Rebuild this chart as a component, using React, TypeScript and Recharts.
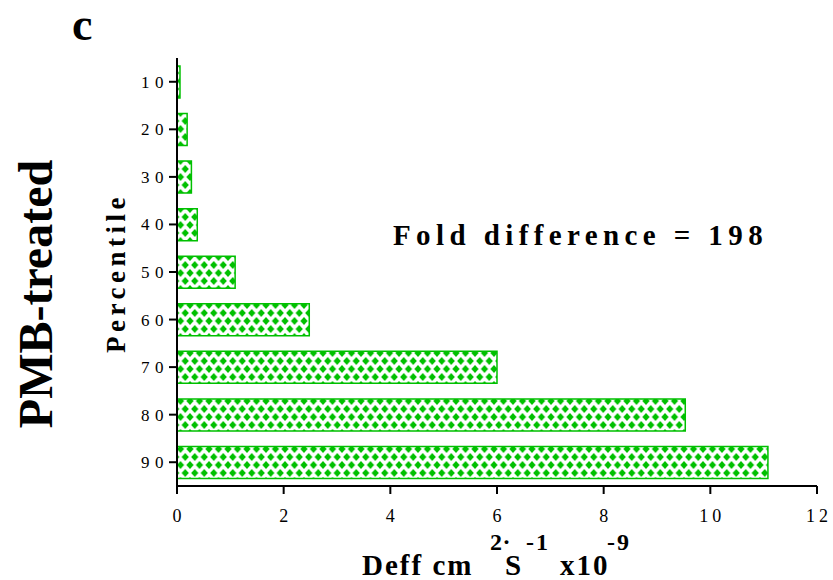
import React from 'react';
import { BarChart, Bar, XAxis, YAxis } from 'recharts';

const percentiles = ['10', '20', '30', '40', '50', '60', '70', '80', '90'];
const deffValues = [0.056, 0.19, 0.27, 0.38, 1.09, 2.48, 6.0, 9.53, 11.08];
const xTicks = [0, 2, 4, 6, 8, 10, 12];
const foldText = 'Fold difference = 198';
const panelLetter = 'c';
const groupLabel = 'PMB-treated';
const yTitle = 'Percentile';

const data = percentiles.map((p, i) => ({ percentile: p, deff: deffValues[i] }));

const SERIF = '"Liberation Serif", "Times New Roman", serif';
const GREEN = '#00C000';

const YTick = (props: any) => {
  const { x, y, payload } = props;
  return (
    <text x={x + 2} y={y} dy={6} textAnchor="end" fontFamily={SERIF} fontSize={17} letterSpacing={5.5} fill="#000">
      {payload.value}
    </text>
  );
};

const XTick = (props: any) => {
  const { x, y, payload } = props;
  return (
    <text x={x + 2} y={y + 26} textAnchor="middle" fontFamily={SERIF} fontSize={18} letterSpacing={4} fill="#000">
      {payload.value}
    </text>
  );
};

export default function App() {
  return (
    <div style={{ position: 'absolute', left: 0, top: 0, width: 833, height: 580, background: '#fff' }}>
      <BarChart
        width={833}
        height={580}
        data={data}
        layout="vertical"
        margin={{ top: 58, right: 16, bottom: 0, left: 117 }}
      >
        <defs>
          <pattern id="diamondFill" patternUnits="userSpaceOnUse" width="9.5" height="16" y="1">
            <rect width="9.5" height="16" fill="#fff" />
            <polygon points="4.75,4.1 8.35,8 4.75,11.9 1.15,8" fill={GREEN} />
            <polygon points="0,-3.9 3.6,0 0,3.9 -3.6,0" fill={GREEN} />
            <polygon points="9.5,-3.9 13.1,0 9.5,3.9 5.9,0" fill={GREEN} />
            <polygon points="0,12.1 3.6,16 0,19.9 -3.6,16" fill={GREEN} />
            <polygon points="9.5,12.1 13.1,16 9.5,19.9 5.9,16" fill={GREEN} />
          </pattern>
        </defs>
        <XAxis
          type="number"
          dataKey="deff"
          domain={[0, 12]}
          ticks={xTicks}
          height={94}
          axisLine={{ stroke: '#000', strokeWidth: 2 }}
          tickLine={{ stroke: '#000', strokeWidth: 2 }}
          tickSize={8}
          tick={<XTick />}
          interval={0}
        />
        <YAxis
          type="category"
          dataKey="percentile"
          width={60}
          axisLine={{ stroke: '#000', strokeWidth: 2 }}
          tickLine={{ stroke: '#000', strokeWidth: 2 }}
          tickSize={8}
          tick={<YTick />}
          interval={0}
        />
        <Bar
          dataKey="deff"
          barSize={32}
          fill="url(#diamondFill)"
          stroke={GREEN}
          strokeWidth={1.5}
          isAnimationActive={false}
        />
      </BarChart>
      <svg
        width={833}
        height={580}
        style={{ position: 'absolute', left: 0, top: 0, pointerEvents: 'none' }}
      >
        <text x={72} y={40} fontFamily={SERIF} fontWeight="bold" fontSize={46} fill="#000">
          {panelLetter}
        </text>
        <text
          x={52}
          y={294}
          transform="rotate(-90 52 294)"
          textAnchor="middle"
          fontFamily={SERIF}
          fontWeight="bold"
          fontSize={48}
          fill="#000"
        >
          {groupLabel}
        </text>
        <text
          x={125}
          y={273}
          transform="rotate(-90 125 273)"
          textAnchor="middle"
          fontFamily={SERIF}
          fontWeight="bold"
          fontSize={27}
          letterSpacing={4.5}
          fill="#000"
        >
          {yTitle}
        </text>
        <text x={393} y={245} fontFamily={SERIF} fontWeight="bold" fontSize={29} letterSpacing={5.4} fill="#000">
          {foldText}
        </text>
        <text fontFamily={SERIF} fontWeight="bold" fill="#000" letterSpacing={2}>
          <tspan x={362} y={575} fontSize={29}>{'Deff cm'}</tspan>
          <tspan x={490} y={550} fontSize={24} letterSpacing={0.5}>{'2·'}</tspan>
          <tspan x={505} y={575} fontSize={29}>{'S'}</tspan>
          <tspan x={526} y={550} fontSize={24}>{'-1'}</tspan>
          <tspan x={560} y={575} fontSize={29}>{'x10'}</tspan>
          <tspan x={607} y={550} fontSize={24}>{'-9'}</tspan>
        </text>
      </svg>
    </div>
  );
}
